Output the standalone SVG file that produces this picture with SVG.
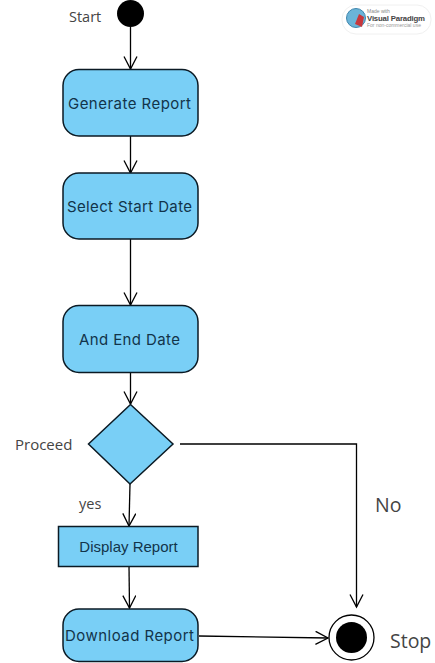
<svg xmlns="http://www.w3.org/2000/svg" width="435" height="663" viewBox="0 0 435 663">
<defs>
<marker id="arr" markerUnits="userSpaceOnUse" markerWidth="18" markerHeight="16" refX="13.5" refY="7" orient="auto"><path d="M1 0.5L13.5 7L1 13.5" fill="none" stroke="#000" stroke-width="1.3"/></marker>
</defs>
<style>
.n{fill:#79cff6;stroke:#0b1a24;stroke-width:1.5}
.t{font-family:"Inter","DejaVu Sans",sans-serif;font-size:15px;fill:#12344a;text-anchor:middle}
.l{font-family:"Open Sans",sans-serif;fill:#444}
.c{fill:none;stroke:#000;stroke-width:1.3}
</style>
<rect width="435" height="663" fill="#fff"/>
<g id="connectors">
<path class="c" d="M130.500 27V69" marker-end="url(#arr)"/>
<path class="c" d="M130.500 136V173" marker-end="url(#arr)"/>
<path class="c" d="M130.500 239V305" marker-end="url(#arr)"/>
<path class="c" d="M130.500 373V404" marker-end="url(#arr)"/>
<path class="c" d="M130 484L129 526" marker-end="url(#arr)"/>
<path class="c" d="M129 566L129.500 608" marker-end="url(#arr)"/>
<path class="c" d="M180 444H356.500V607" marker-end="url(#arr)"/>
<path class="c" d="M199 636L328 638" marker-end="url(#arr)"/>
</g>
<g id="start"><circle cx="130.500" cy="13.500" r="13.500" fill="#000"/><text class="l" x="69" y="22" font-size="14.500">Start</text></g>
<g id="generate-report"><rect class="n" x="63" y="69.500" width="135" height="66.500" rx="16"/><text class="t" x="129.500" y="109" textLength="123">Generate Report</text></g>
<g id="select-start-date"><rect class="n" x="63" y="173" width="135" height="66" rx="16"/><text class="t" x="129.500" y="212" textLength="125">Select Start Date</text></g>
<g id="and-end-date"><rect class="n" x="63" y="305.500" width="135" height="67" rx="16"/><text class="t" x="129.500" y="345" textLength="101">And End Date</text></g>
<g id="proceed"><path class="n" d="M130.500 404.500L173 444L130 484L88.500 444Z"/><text class="l" x="15" y="450" font-size="15">Proceed</text></g>
<text id="yes" class="l" x="79" y="509" font-size="14.500">yes</text>
<g id="display-report"><rect class="n" x="58.500" y="526.500" width="139.500" height="40" stroke-width="1"/><text x="128.500" y="552" font-family="Liberation Sans,sans-serif" font-size="15" fill="#12344a" text-anchor="middle">Display Report</text></g>
<g id="download-report"><rect class="n" x="63" y="609" width="135" height="52.500" rx="16"/><text class="t" x="129.500" y="641" textLength="129">Download Report</text></g>
<text id="no" class="l" x="375" y="512" font-size="19.500">No</text>
<g id="stop"><circle cx="351.500" cy="637.500" r="22.500" fill="#fff" stroke="#000" stroke-width="1.300"/><circle cx="351.500" cy="637.500" r="15.500" fill="#000"/><text class="l" x="390" y="648" font-size="19.500">Stop</text></g>
<g id="watermark">
<rect x="342" y="5" width="89" height="29" rx="14" fill="#fff" stroke="#f0f0f0"/>
<circle cx="356" cy="18" r="9.500" fill="#6bb4d8" stroke="#3f86ad"/>
<path d="M359 14l5 3-2 10-7-3z" fill="#c8383c"/>
<text x="367" y="12.500" font-family="Liberation Sans,sans-serif" font-size="5" fill="#888">Made with</text>
<text x="367" y="21" font-family="Liberation Sans,sans-serif" font-size="7.800" font-weight="bold" fill="#444" textLength="58">Visual Paradigm</text>
<text x="367" y="27" font-family="Liberation Sans,sans-serif" font-size="5" fill="#999">For non-commercial use</text>
</g>
</svg>
